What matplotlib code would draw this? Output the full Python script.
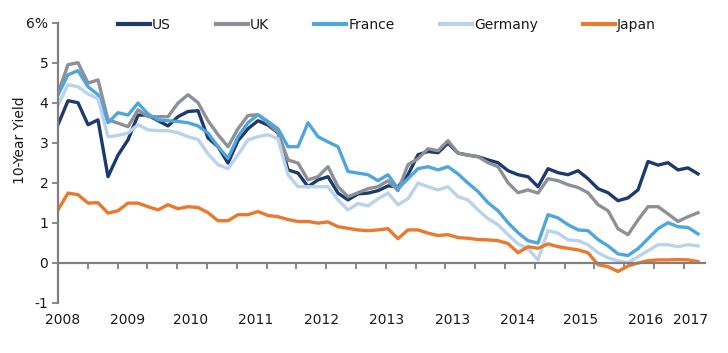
import numpy as np
import matplotlib
matplotlib.use("Agg")
import matplotlib.pyplot as plt

plt.rcParams['font.family'] = ['DejaVu Sans']
plt.rcParams['axes.unicode_minus'] = False

# time axis: decimal years, one reading every ~7.5 weeks
years = 2008 + np.arange(65) / 7

us = [3.45, 4.05, 4.0, 3.45, 3.57, 2.15, 2.69, 3.07, 3.69, 3.69,
      3.55, 3.42, 3.65, 3.78, 3.8, 3.12, 2.9, 2.49, 3.05, 3.35,
      3.55, 3.44, 3.25, 2.32, 2.24, 1.9, 2.07, 2.15, 1.74, 1.57,
      1.72, 1.74, 1.8, 1.92, 1.9, 2.2, 2.7, 2.78, 2.75, 2.99,
      2.74, 2.69, 2.65, 2.57, 2.5, 2.3, 2.2, 2.15, 1.9, 2.35,
      2.25, 2.2, 2.3, 2.1, 1.85, 1.75, 1.55, 1.62, 1.82, 2.53,
      2.44, 2.5, 2.32, 2.37, 2.22]
uk = [4.24, 4.95, 5.0, 4.49, 4.57, 3.57, 3.49, 3.4, 3.82, 3.65,
      3.65, 3.65, 3.99, 4.2, 4.0, 3.55, 3.2, 2.9, 3.35, 3.68,
      3.7, 3.49, 3.25, 2.57, 2.49, 2.07, 2.15, 2.4, 1.9, 1.65,
      1.75, 1.85, 1.9, 2.05, 1.8, 2.45, 2.6, 2.85, 2.8, 3.05,
      2.74, 2.69, 2.65, 2.5, 2.4, 2.0, 1.75, 1.82, 1.74, 2.1,
      2.05, 1.95, 1.88, 1.75, 1.45, 1.3, 0.85, 0.7, 1.07, 1.4,
      1.4, 1.22, 1.03, 1.15, 1.25]
france = [4.19, 4.7, 4.8, 4.4, 4.2, 3.5, 3.75, 3.69, 3.99, 3.72,
          3.57, 3.55, 3.53, 3.5, 3.42, 3.24, 2.9, 2.61, 3.15, 3.5,
          3.7, 3.53, 3.35, 2.9, 2.9, 3.5, 3.15, 3.02, 2.9, 2.28,
          2.24, 2.2, 2.05, 2.2, 1.85, 2.1, 2.35, 2.4, 2.32, 2.4,
          2.22, 1.99, 1.78, 1.5, 1.3, 1.0, 0.75, 0.55, 0.49, 1.2,
          1.12, 0.95, 0.82, 0.8, 0.58, 0.42, 0.22, 0.18, 0.35, 0.6,
          0.85, 1.0, 0.9, 0.88, 0.72]
germany = [3.94, 4.45, 4.4, 4.22, 4.1, 3.15, 3.18, 3.24, 3.45, 3.32,
           3.3, 3.3, 3.25, 3.15, 3.08, 2.72, 2.45, 2.35, 2.7, 3.07,
           3.15, 3.2, 3.1, 2.2, 1.9, 1.9, 1.9, 1.9, 1.57, 1.32,
           1.48, 1.42, 1.6, 1.74, 1.45, 1.6, 1.99, 1.9, 1.82, 1.9,
           1.65, 1.57, 1.32, 1.1, 0.95, 0.7, 0.47, 0.35, 0.07, 0.8,
           0.74, 0.57, 0.55, 0.45, 0.25, 0.12, 0.05, 0.0, 0.15, 0.3,
           0.45, 0.45, 0.4, 0.45, 0.42]
japan = [1.32, 1.74, 1.7, 1.49, 1.5, 1.24, 1.3, 1.49, 1.49, 1.4,
         1.32, 1.45, 1.35, 1.4, 1.38, 1.25, 1.05, 1.05, 1.2, 1.2,
         1.28, 1.18, 1.15, 1.08, 1.03, 1.03, 0.99, 1.02, 0.9, 0.86,
         0.82, 0.8, 0.82, 0.85, 0.6, 0.82, 0.82, 0.74, 0.68, 0.7,
         0.63, 0.61, 0.58, 0.57, 0.55, 0.48, 0.25, 0.4, 0.36, 0.47,
         0.4, 0.36, 0.32, 0.25, -0.05, -0.1, -0.22, -0.08, -0.01, 0.05,
         0.07, 0.07, 0.08, 0.07, 0.03]

series = [("US", us, "#1c3a6e"),
          ("UK", uk, "#8f9096"),
          ("France", france, "#4ea6dc"),
          ("Germany", germany, "#b9d3ec"),
          ("Japan", japan, "#e9792e")]

label_years = [2008.06, 2008.99, 2009.9, 2010.83, 2011.77, 2012.7,
               2013.63, 2014.56, 2015.47, 2016.4, 2017.04]
label_text = ["2008", "2009", "2010", "2011", "2012", "2013",
              "2013", "2014", "2015", "2016", "2017"]

fig = plt.figure(figsize=(7.28, 3.53), dpi=100)
ax = fig.add_axes([58 / 728, 1 - 302.7 / 353, (705 - 58) / 728, (302.7 - 22.7) / 353])

for name, vals, color in series:
    ax.plot(years, vals, color=color, linewidth=2.4, label=name,
            solid_joinstyle='round')

ax.set_xlim(2008, 2008 + (705 - 58) / 70)
ax.set_ylim(-1, 6)

axis_gray = "#808080"
for side in ("top", "right"):
    ax.spines[side].set_visible(False)
ax.spines["left"].set_color(axis_gray)
ax.spines["left"].set_linewidth(1.6)
ax.spines["bottom"].set_position(("data", 0))
ax.spines["bottom"].set_color(axis_gray)
ax.spines["bottom"].set_linewidth(1.6)

ax.set_yticks(range(-1, 7))
ax.set_yticklabels([f"{v}%" if v == 6 else str(v) for v in range(-1, 7)])
ax.tick_params(axis="y", direction="out", length=4, width=1.3,
               color=axis_gray, labelsize=10, pad=3, labelcolor="#1a1a1a")

tick_years = 2008 + 29.8 * np.arange(22) / 70
ax.set_xticks(tick_years, minor=True)
ax.set_xticks(label_years)
ax.set_xticklabels(label_text)
ax.tick_params(axis="x", which="minor", direction="out", length=4,
               width=1.3, color=axis_gray)
ax.tick_params(axis="x", which="major", length=0, pad=36,
               labelsize=10, labelcolor="#1a1a1a")

fig.text(20 / 728, 1 - 140 / 353, "10-Year Yield", rotation=90,
         ha="center", va="center", fontsize=10, color="#1a1a1a")

leg = ax.legend(loc="center left", bbox_to_anchor=(118 / 728, 1 - 25 / 353),
                bbox_transform=fig.transFigure, ncol=5, frameon=False,
                borderpad=0, borderaxespad=0, handlelength=2.3,
                handletextpad=0.15, columnspacing=3.25, fontsize=10)
for line in leg.get_lines():
    line.set_linewidth(3.0)
for txt in leg.get_texts():
    txt.set_color("#1a1a1a")

fig.savefig("out.png", dpi=100)
